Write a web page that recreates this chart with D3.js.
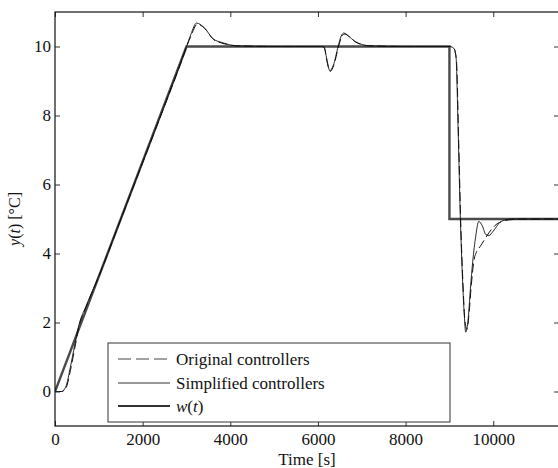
<!DOCTYPE html>
<html>
<head>
<meta charset="utf-8">
<script src="https://cdnjs.cloudflare.com/ajax/libs/d3/7.8.5/d3.min.js"></script>
<style>
  body { margin: 0; background: #fff; }
  svg text { font-family: "Liberation Serif", "Times New Roman", serif; fill: #111; }
</style>
</head>
<body>
<div id="chart"></div>
<script>
// reference w(t)
var wT = [0, 3000, 9000, 9000, 11500];
var wY = [0, 10, 10, 5, 5];

// simplified controllers (thin solid)
var simpT = [0, 150, 250, 350, 450, 550, 700, 1000, 1500, 2000, 2500, 2900, 3000, 3100, 3230, 3400, 3610, 3800, 3950, 4100, 5000,
             6100, 6140, 6200, 6270, 6350, 6460, 6530, 6590, 6700, 6840, 7000, 7150, 8000,
             9000, 9100, 9150, 9200, 9250, 9300, 9340, 9370, 9420, 9480, 9530, 9600, 9670, 9750, 9830, 9900, 10000, 10150, 10300, 10420, 11500];
var simpY = [0, 0, 0.15, 0.7, 1.35, 1.95, 2.45, 3.35, 5.0, 6.65, 8.3, 9.65, 10.0, 10.35, 10.68, 10.55, 10.22, 10.12, 10.06, 10.02, 10,
             10, 9.98, 9.65, 9.3, 9.45, 10.0, 10.3, 10.39, 10.3, 10.15, 10.06, 10.02, 10,
             10, 9.95, 9.7, 7.5, 5.0, 3.2, 2.2, 1.72, 2.0, 3.0, 3.75, 4.5, 4.93, 4.8, 4.55, 4.52, 4.65, 4.9, 4.98, 5.0, 5.0];

// original controllers (dashed)
var origT = [0, 150, 250, 350, 450, 550, 700, 1000, 1500, 2000, 2500, 2900, 3000, 3100, 3250, 3420, 3620, 3800, 3980, 4150, 5000,
             6100, 6150, 6200, 6280, 6360, 6470, 6540, 6610, 6720, 6860, 7020, 7180, 8000,
             9000, 9100, 9160, 9210, 9260, 9310, 9350, 9400, 9450, 9500, 9560, 9620, 9700, 9800, 9900, 10030, 10200, 10400, 10700, 11500];
var origY = [0, 0, 0.1, 0.6, 1.25, 1.9, 2.42, 3.33, 4.98, 6.63, 8.28, 9.62, 9.98, 10.3, 10.65, 10.52, 10.2, 10.1, 10.05, 10.02, 10,
             10, 9.95, 9.6, 9.28, 9.45, 10.0, 10.28, 10.36, 10.28, 10.13, 10.05, 10.02, 10,
             10, 9.95, 9.6, 7.3, 4.8, 3.1, 2.1, 1.8, 2.3, 3.1, 3.8, 4.05, 4.2, 4.4, 4.6, 4.8, 4.93, 4.98, 5.0, 5.0];

var xTicks = [0, 2000, 4000, 6000, 8000, 10000];
var yTicks = [0, 2, 4, 6, 8, 10];
var legendLabels = ["Original controllers", "Simplified controllers", "w(t)"];

var W = 558, H = 468;
var mLeft = 55, mRight = 559, mTop = 12, mBottom = 426;

var x = d3.scaleLinear().domain([0, 11500]).range([mLeft, mRight]);
var y = d3.scaleLinear().domain([-1, 11]).range([mBottom, mTop]);

var svg = d3.select("#chart").append("svg")
    .attr("width", W)
    .attr("height", H);

svg.append("defs").append("clipPath").attr("id", "clip")
    .append("rect")
    .attr("x", mLeft).attr("y", mTop)
    .attr("width", mRight - mLeft).attr("height", mBottom - mTop);

function zip(ts, vs) {
    return ts.map(function(t, i) { return [t, vs[i]]; });
}

var line = d3.line()
    .x(function(d) { return x(d[0]); })
    .y(function(d) { return y(d[1]); });
var smooth = d3.line()
    .curve(d3.curveMonotoneX)
    .x(function(d) { return x(d[0]); })
    .y(function(d) { return y(d[1]); });

var plot = svg.append("g").attr("clip-path", "url(#clip)");

plot.append("path")
    .attr("d", line(zip(wT, wY)))
    .attr("fill", "none")
    .attr("stroke", "#4a4a4a")
    .attr("stroke-width", 2.4);

plot.append("path")
    .attr("d", smooth(zip(origT, origY)))
    .attr("fill", "none")
    .attr("stroke", "#111")
    .attr("stroke-width", 1)
    .attr("stroke-dasharray", "9,4");

plot.append("path")
    .attr("d", smooth(zip(simpT, simpY)))
    .attr("fill", "none")
    .attr("stroke", "#111")
    .attr("stroke-width", 0.9);

// axes, ticks pointing inward
var xAxis = d3.axisBottom(x).tickValues(xTicks).tickSize(-5).tickPadding(7).tickFormat(d3.format("d"));
var yAxis = d3.axisLeft(y).tickValues(yTicks).tickSize(-5).tickPadding(4).tickFormat(d3.format("d"));

svg.append("g").attr("transform", "translate(0," + mBottom + ")").call(xAxis);
svg.append("g").attr("transform", "translate(" + mLeft + ",0)").call(yAxis);
svg.append("g").attr("transform", "translate(0," + mTop + ")")
    .call(d3.axisTop(x).tickValues(xTicks).tickSize(-5).tickFormat(""));
svg.append("g").attr("transform", "translate(" + mRight + ",0)")
    .call(d3.axisRight(y).tickValues(yTicks).tickSize(-5).tickFormat(""));

svg.selectAll(".domain").remove();
svg.selectAll(".tick line").attr("stroke", "#333");
svg.selectAll(".tick text")
    .style("font-size", "17px")
    .style("font-family", "'Liberation Serif', serif")
    .attr("fill", "#111");

svg.append("rect")
    .attr("x", mLeft).attr("y", mTop)
    .attr("width", mRight - mLeft).attr("height", mBottom - mTop)
    .attr("fill", "none")
    .attr("stroke", "#111")
    .attr("stroke-width", 1.2);

svg.append("text")
    .attr("x", (mLeft + mRight) / 2)
    .attr("y", 465)
    .attr("text-anchor", "middle")
    .style("font-size", "17px")
    .text("Time [s]");

var yl = svg.append("text")
    .attr("transform", "translate(20," + ((mTop + mBottom) / 2) + ") rotate(-90)")
    .attr("text-anchor", "middle")
    .style("font-size", "16px");
yl.append("tspan").style("font-style", "italic").text("y");
yl.append("tspan").text("(");
yl.append("tspan").style("font-style", "italic").text("t");
yl.append("tspan").text(") [°C]");

// legend
var lg = svg.append("g");
lg.append("rect")
    .attr("x", 108).attr("y", 343)
    .attr("width", 342).attr("height", 79)
    .attr("fill", "#fff")
    .attr("stroke", "#333")
    .attr("stroke-width", 1);

var rows = [359, 383, 406];
var styles = [
    { stroke: "#444", width: 1, dash: "13,5" },
    { stroke: "#333", width: 1, dash: null },
    { stroke: "#333", width: 2, dash: null }
];
legendLabels.forEach(function(lab, i) {
    lg.append("line")
        .attr("x1", 118).attr("x2", 170)
        .attr("y1", rows[i]).attr("y2", rows[i])
        .attr("stroke", styles[i].stroke)
        .attr("stroke-width", styles[i].width)
        .attr("stroke-dasharray", styles[i].dash);
    var t = lg.append("text")
        .attr("x", 176).attr("y", rows[i])
        .attr("dy", "0.35em")
        .style("font-size", "17px");
    if (i == 2) {
        t.append("tspan").style("font-style", "italic").text("w");
        t.append("tspan").text("(");
        t.append("tspan").style("font-style", "italic").text("t");
        t.append("tspan").text(")");
    } else {
        t.text(lab);
    }
});
</script>
</body>
</html>
